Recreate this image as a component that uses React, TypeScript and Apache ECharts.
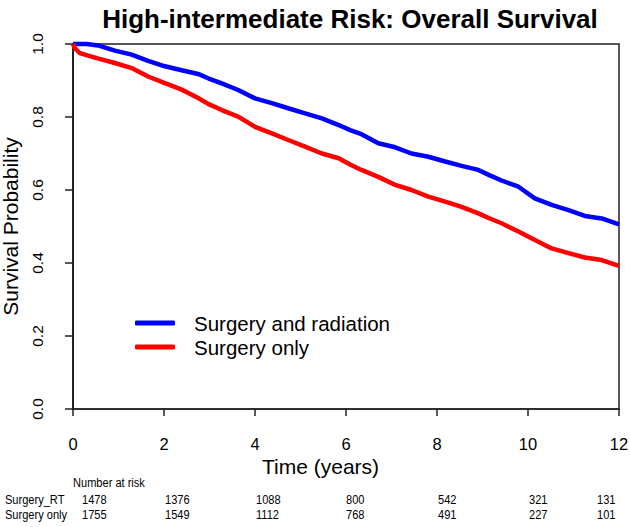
import React, { useEffect, useRef } from "react";
import * as echarts from "echarts";

const seriesNames = ["Surgery and radiation", "Surgery only"];

const rtTime = [0, 0.3, 0.55, 0.92, 1.29, 1.65, 2.02, 2.39, 2.75, 2.97, 3.27, 3.63, 4.0, 4.37, 4.73, 5.1, 5.47, 5.84, 6.09, 6.34, 6.71, 7.08, 7.44, 7.81, 8.18, 8.54, 8.91, 9.16, 9.42, 9.79, 10.15, 10.52, 10.89, 11.25, 11.62, 12.0];
const rtSurv = [1.0, 1.0, 0.996, 0.982, 0.971, 0.954, 0.939, 0.928, 0.918, 0.906, 0.892, 0.874, 0.851, 0.838, 0.824, 0.81, 0.796, 0.778, 0.764, 0.753, 0.728, 0.717, 0.7, 0.691, 0.678, 0.666, 0.655, 0.64, 0.626, 0.609, 0.577, 0.559, 0.545, 0.529, 0.522, 0.506];

const soTime = [0, 0.04, 0.15, 0.26, 0.56, 0.92, 1.29, 1.65, 2.02, 2.39, 2.75, 2.97, 3.27, 3.63, 4.0, 4.37, 4.73, 5.1, 5.47, 5.84, 6.09, 6.34, 6.71, 7.08, 7.44, 7.81, 8.18, 8.54, 8.91, 9.16, 9.42, 9.79, 10.15, 10.52, 10.89, 11.25, 11.62, 12.0];
const soSurv = [1.0, 0.989, 0.975, 0.971, 0.96, 0.948, 0.934, 0.911, 0.893, 0.875, 0.852, 0.836, 0.819, 0.801, 0.773, 0.755, 0.737, 0.719, 0.7, 0.687, 0.67, 0.655, 0.636, 0.614, 0.6, 0.582, 0.568, 0.554, 0.536, 0.522, 0.509, 0.486, 0.463, 0.44, 0.427, 0.415, 0.408, 0.392];

const riskTimes = [0, 2, 4, 6, 8, 10, 12];
const riskRT = [1478, 1376, 1088, 800, 542, 321, 131];
const riskSO = [1755, 1549, 1112, 768, 491, 227, 101];
const riskRowLabels = ["Surgery_RT", "Surgery only"];

const FONT = "'Liberation Sans', Arial, sans-serif";

export default function App() {
  const ref = useRef<HTMLDivElement>(null);
  useEffect(() => {
    const chart = echarts.init(ref.current!, null, { renderer: "svg" });
    const pair = (t: number[], s: number[]) => t.map((v, i) => [v, s[i]]);
    chart.setOption({
      animation: false,
      backgroundColor: "#ffffff",
      textStyle: { fontFamily: FONT },
      title: {
        text: "High-intermediate Risk: Overall Survival",
        left: 345,
        textAlign: "center",
        top: 1,
        textStyle: { fontFamily: FONT, fontWeight: "bold", fontSize: 26, color: "#000" },
      },
      grid: {
        left: 73, right: 11, top: 44, bottom: 118,
        containLabel: false,
        outerBoundsMode: "none",
        show: true, borderColor: "#222", borderWidth: 1.5, backgroundColor: "transparent",
      },
      legend: {
        orient: "vertical",
        left: 135,
        top: 311,
        padding: 0,
        icon: "roundRect",
        itemWidth: 40,
        itemHeight: 5,
        itemGap: 0,
        textStyle: { fontFamily: FONT, fontSize: 20.5, color: "#000", padding: [0, 0, 0, 14], lineHeight: 24 },
        data: seriesNames,
      },
      xAxis: {
        type: "value",
        min: 0, max: 12, interval: 2,
        axisLine: { show: true, lineStyle: { color: "#222", width: 1.5 } },
        axisTick: { show: true, length: 7, inside: false, lineStyle: { color: "#222", width: 1.5 } },
        axisLabel: { fontFamily: FONT, fontSize: 16.5, color: "#000", margin: 26 },
        splitLine: { show: false },
      },
      yAxis: {
        type: "value",
        min: 0, max: 1, interval: 0.2,
        name: "Survival Probability",
        nameLocation: "middle",
        nameGap: 47,
        nameTextStyle: { fontFamily: FONT, fontSize: 21, color: "#000" },
        axisLine: { show: true, lineStyle: { color: "#222", width: 2 } },
        axisTick: { show: true, length: 8, inside: false, lineStyle: { color: "#222", width: 1.5 } },
        axisLabel: {
          fontFamily: FONT, fontSize: 15.5, color: "#000", rotate: 90, margin: 28,
          formatter: (v: number) => v.toFixed(1),
        },
        splitLine: { show: false },
      },
      series: [
        {
          name: seriesNames[0], type: "line", data: pair(rtTime, rtSurv),
          showSymbol: false, clip: false, color: "#0000ff",
          lineStyle: { color: "#0000ff", width: 4.5 },
        },
        {
          name: seriesNames[1], type: "line", data: pair(soTime, soSurv),
          showSymbol: false, clip: false, color: "#ff0000",
          lineStyle: { color: "#ff0000", width: 4.5 },
        },
      ],
    });

    const offsets = [9, 1, 1, 0, 1, 1, -22];
    const narrow = (text: string, x: number, y: number) => ({
      type: "text", x, y, scaleX: 0.82,
      style: { text, font: `13.5px ${FONT}`, fill: "#000", verticalAlign: "middle" },
    });
    const graphics: any[] = [
      {
        type: "text", left: 262, top: 456,
        style: { text: "Time (years)", font: `21px ${FONT}`, fill: "#000" },
      },
      narrow("Number at risk", 73, 483),
    ];
    const rows = [riskRT, riskSO];
    const rowY = [500, 515];
    rows.forEach((row, r) => {
      graphics.push(narrow(riskRowLabels[r], 5, rowY[r]));
      row.forEach((n, i) => {
        const px = chart.convertToPixel({ xAxisIndex: 0 }, riskTimes[i]) as number;
        graphics.push(narrow(String(n), px + offsets[i], rowY[r]));
      });
    });
    chart.setOption({ graphic: graphics });
    return () => chart.dispose();
  }, []);
  return (
    <div
      ref={ref}
      style={{ position: "absolute", left: 0, top: 0, width: 630, height: 527, background: "#fff" }}
    />
  );
}
